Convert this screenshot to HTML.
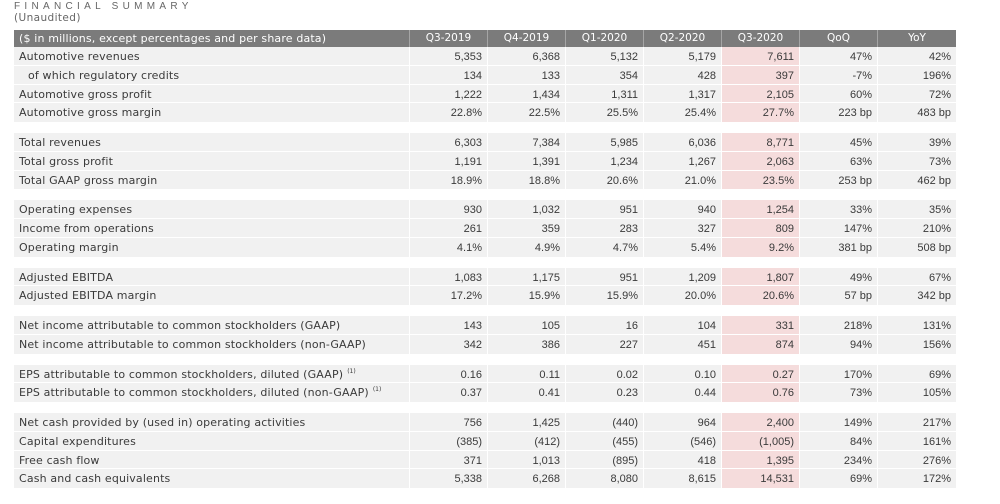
<!DOCTYPE html>
<html><head><meta charset="utf-8">
<style>
html,body{margin:0;padding:0}
body{width:1000px;height:504px;background:#fff;position:relative;overflow:hidden;font-family:"DejaVu Sans","Liberation Sans",sans-serif;color:#3a3a3a}
.t{position:absolute;left:14px;top:1px;font-family:"Liberation Sans",sans-serif;font-size:10px;line-height:12px;letter-spacing:4.3px;color:#666}
.u{position:absolute;left:14px;top:12px;font-size:10.5px;line-height:13px;letter-spacing:0.4px;color:#666}
.g{position:absolute;left:14px;width:942px}
.r{display:flex;height:18.75px;box-sizing:border-box;border-bottom:1px solid #fff}
.g .r:last-child{border-bottom:none}
.c{width:78px;flex:none;box-sizing:border-box;border-right:1px solid #fff;background:#f1f1f1;text-align:right;padding-right:5px;font-family:"Liberation Sans",sans-serif;font-size:11px;line-height:20px;white-space:nowrap;overflow:visible}
.c:last-child{border-right:none}
.l{width:396px;text-align:left;padding-left:5px;font-family:"DejaVu Sans",sans-serif;font-size:11px;letter-spacing:0.15px}
.i{padding-left:14px}
.p{background:#f5dcdc}
.h{height:17px;border-bottom:none}
.h .c{background:#7b7b7b;color:#fff;text-align:center;padding:0;line-height:17px;border-right:1px solid #a5a5a5;font-family:"DejaVu Sans",sans-serif;font-size:10.5px}
.h .l{text-align:left;padding-left:5px;font-size:11px}
.h .c:last-child{border-right:none}
.s{font-size:6px;vertical-align:baseline;position:relative;top:-5px;margin-left:4px;letter-spacing:0;line-height:0}
</style></head><body>
<div class="t">FINANCIAL SUMMARY</div>
<div class="u">(Unaudited)</div>

<div class="g" style="top:30px">
<div class="r h"><div class="c l">($ in millions, except percentages and per share data)</div><div class="c">Q3-2019</div><div class="c">Q4-2019</div><div class="c">Q1-2020</div><div class="c">Q2-2020</div><div class="c">Q3-2020</div><div class="c">QoQ</div><div class="c">YoY</div></div>
</div>

<div class="g" style="top:47px">
<div class="r"><div class="c l">Automotive revenues</div><div class="c">5,353</div><div class="c">6,368</div><div class="c">5,132</div><div class="c">5,179</div><div class="c p">7,611</div><div class="c">47%</div><div class="c">42%</div></div>
<div class="r"><div class="c l i">of which regulatory credits</div><div class="c">134</div><div class="c">133</div><div class="c">354</div><div class="c">428</div><div class="c p">397</div><div class="c">-7%</div><div class="c">196%</div></div>
<div class="r"><div class="c l">Automotive gross profit</div><div class="c">1,222</div><div class="c">1,434</div><div class="c">1,311</div><div class="c">1,317</div><div class="c p">2,105</div><div class="c">60%</div><div class="c">72%</div></div>
<div class="r"><div class="c l">Automotive gross margin</div><div class="c">22.8%</div><div class="c">22.5%</div><div class="c">25.5%</div><div class="c">25.4%</div><div class="c p">27.7%</div><div class="c">223 bp</div><div class="c">483 bp</div></div>
</div>

<div class="g" style="top:133px">
<div class="r"><div class="c l">Total revenues</div><div class="c">6,303</div><div class="c">7,384</div><div class="c">5,985</div><div class="c">6,036</div><div class="c p">8,771</div><div class="c">45%</div><div class="c">39%</div></div>
<div class="r"><div class="c l">Total gross profit</div><div class="c">1,191</div><div class="c">1,391</div><div class="c">1,234</div><div class="c">1,267</div><div class="c p">2,063</div><div class="c">63%</div><div class="c">73%</div></div>
<div class="r"><div class="c l">Total GAAP gross margin</div><div class="c">18.9%</div><div class="c">18.8%</div><div class="c">20.6%</div><div class="c">21.0%</div><div class="c p">23.5%</div><div class="c">253 bp</div><div class="c">462 bp</div></div>
</div>

<div class="g" style="top:200.25px">
<div class="r"><div class="c l">Operating expenses</div><div class="c">930</div><div class="c">1,032</div><div class="c">951</div><div class="c">940</div><div class="c p">1,254</div><div class="c">33%</div><div class="c">35%</div></div>
<div class="r"><div class="c l">Income from operations</div><div class="c">261</div><div class="c">359</div><div class="c">283</div><div class="c">327</div><div class="c p">809</div><div class="c">147%</div><div class="c">210%</div></div>
<div class="r"><div class="c l">Operating margin</div><div class="c">4.1%</div><div class="c">4.9%</div><div class="c">4.7%</div><div class="c">5.4%</div><div class="c p">9.2%</div><div class="c">381 bp</div><div class="c">508 bp</div></div>
</div>

<div class="g" style="top:267.5px">
<div class="r"><div class="c l">Adjusted EBITDA</div><div class="c">1,083</div><div class="c">1,175</div><div class="c">951</div><div class="c">1,209</div><div class="c p">1,807</div><div class="c">49%</div><div class="c">67%</div></div>
<div class="r"><div class="c l">Adjusted EBITDA margin</div><div class="c">17.2%</div><div class="c">15.9%</div><div class="c">15.9%</div><div class="c">20.0%</div><div class="c p">20.6%</div><div class="c">57 bp</div><div class="c">342 bp</div></div>
</div>

<div class="g" style="top:316px">
<div class="r"><div class="c l">Net income attributable to common stockholders (GAAP)</div><div class="c">143</div><div class="c">105</div><div class="c">16</div><div class="c">104</div><div class="c p">331</div><div class="c">218%</div><div class="c">131%</div></div>
<div class="r"><div class="c l">Net income attributable to common stockholders (non-GAAP)</div><div class="c">342</div><div class="c">386</div><div class="c">227</div><div class="c">451</div><div class="c p">874</div><div class="c">94%</div><div class="c">156%</div></div>
</div>

<div class="g" style="top:364.5px">
<div class="r"><div class="c l">EPS attributable to common stockholders, diluted (GAAP)<span class="s">(1)</span></div><div class="c">0.16</div><div class="c">0.11</div><div class="c">0.02</div><div class="c">0.10</div><div class="c p">0.27</div><div class="c">170%</div><div class="c">69%</div></div>
<div class="r"><div class="c l">EPS attributable to common stockholders, diluted (non-GAAP)<span class="s">(1)</span></div><div class="c">0.37</div><div class="c">0.41</div><div class="c">0.23</div><div class="c">0.44</div><div class="c p">0.76</div><div class="c">73%</div><div class="c">105%</div></div>
</div>

<div class="g" style="top:413px">
<div class="r"><div class="c l">Net cash provided by (used in) operating activities</div><div class="c">756</div><div class="c">1,425</div><div class="c">(440)</div><div class="c">964</div><div class="c p">2,400</div><div class="c">149%</div><div class="c">217%</div></div>
<div class="r"><div class="c l">Capital expenditures</div><div class="c">(385)</div><div class="c">(412)</div><div class="c">(455)</div><div class="c">(546)</div><div class="c p">(1,005)</div><div class="c">84%</div><div class="c">161%</div></div>
<div class="r"><div class="c l">Free cash flow</div><div class="c">371</div><div class="c">1,013</div><div class="c">(895)</div><div class="c">418</div><div class="c p">1,395</div><div class="c">234%</div><div class="c">276%</div></div>
<div class="r"><div class="c l">Cash and cash equivalents</div><div class="c">5,338</div><div class="c">6,268</div><div class="c">8,080</div><div class="c">8,615</div><div class="c p">14,531</div><div class="c">69%</div><div class="c">172%</div></div>
</div>
</body></html>
